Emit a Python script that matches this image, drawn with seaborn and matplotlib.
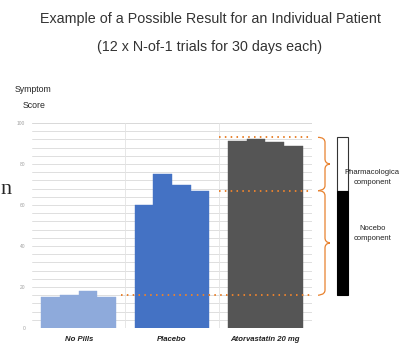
import numpy as np
import pandas as pd
import matplotlib
matplotlib.use("Agg")
import matplotlib.pyplot as plt
import matplotlib.transforms as mtransforms
from matplotlib.path import Path
from matplotlib.patches import PathPatch, Rectangle
import seaborn as sns

# data
groups = ["No Pills", "Placebo", "Atorvastatin 20 mg"]
trials = ["1", "2", "3", "4"]
no_pills = [15, 16, 18, 15]
placebo = [60, 75, 70, 67]
atorvastatin = [91, 92, 90.5, 89]
group_colors = ["#8eaadb", "#4472c4", "#555555"]

# reference levels shown by the dotted lines
baseline_level = 16
nocebo_level = 67
pharma_level = 93

rows = []
for g, vals in zip(groups, [no_pills, placebo, atorvastatin]):
    for t, v in zip(trials, vals):
        rows.append({"group": g, "trial": t, "score": v})
df = pd.DataFrame(rows)

sns.set_style("white")
plt.rcParams['font.family'] = ['Liberation Sans', 'DejaVu Sans']

fig = plt.figure(figsize=(4.01, 3.46), dpi=100)
ax = fig.add_axes([32 / 401, 18 / 346, 280 / 401, 205 / 346])

sns.barplot(data=df, x="group", y="score", hue="trial", dodge=True, gap=0,
            width=0.8, saturation=1, legend=False, ax=ax, zorder=3)

# color bars by group, not by hue
for p in ax.patches:
    cx = p.get_x() + p.get_width() / 2
    idx = int(round(cx))
    p.set_facecolor(group_colors[idx])
    p.set_edgecolor(group_colors[idx])
    p.set_linewidth(0.3)

ax.set_xlim(-0.5, 2.5)
ax.set_ylim(0, 100)

# light gridlines every 4 units
for yv in np.arange(0, 101, 4):
    ax.axhline(yv, color="#d9d9d9", lw=0.6, zorder=1)
ax.axhline(100, color="#d9d9d9", lw=0.6, zorder=1)
for xv in [0.5, 1.5]:
    ax.axvline(xv, color="#e3e3e3", lw=0.6, zorder=1)

for s in ax.spines.values():
    s.set_visible(False)

ax.set_yticks([0, 20, 40, 60, 80, 100])
ax.set_yticklabels(["0", "20", "40", "60", "80", "100"], fontsize=3.5, color="#a0a0a0")
ax.tick_params(axis="y", length=0, pad=5)
ax.set_xticks([0, 1, 2])
ax.set_xticklabels(groups, fontsize=5.6, fontstyle="italic", fontweight="bold", color="#222222")
ax.tick_params(axis="x", length=0, pad=6)
ax.set_xlabel("")
ax.set_ylabel("")

orange = "#e8822f"
trans = mtransforms.blended_transform_factory(ax.transAxes, ax.transData)
ax.plot([1.5, 2.5], [pharma_level] * 2, color=orange, lw=1.4, ls=(0, (0.8, 2.2)),
        zorder=4, clip_on=False)
ax.plot([1.5, 2.5], [nocebo_level] * 2, color=orange, lw=1.4, ls=(0, (0.8, 2.2)),
        zorder=4, clip_on=False)
ax.plot([0.45, 2.5], [baseline_level] * 2, color=orange, lw=1.4, ls=(0, (0.8, 2.2)),
        zorder=4, clip_on=False)


def brace(y_top, y_bot, xt, xs, xp, r=2.5):
    ym = (y_top + y_bot) / 2
    verts = [(xt, y_top), (xs, y_top), (xs, y_top - r),
             (xs, ym + r),
             (xs, ym), (xp, ym), (xp, ym),
             (xp, ym), (xs, ym), (xs, ym - r),
             (xs, y_bot + r),
             (xs, y_bot), (xt, y_bot), (xt, y_bot)]
    codes = [Path.MOVETO, Path.CURVE3, Path.CURVE3,
             Path.LINETO,
             Path.CURVE4, Path.CURVE4, Path.CURVE4,
             Path.CURVE4, Path.CURVE4, Path.CURVE4,
             Path.LINETO,
             Path.CURVE4, Path.CURVE4, Path.CURVE4]
    ax.add_patch(PathPatch(Path(verts, codes), transform=trans, fill=False,
                           edgecolor=orange, lw=0.9, clip_on=False))


bx_t = (318 - 32) / 280
bx_s = (325 - 32) / 280
bx_p = (330 - 32) / 280
brace(pharma_level, nocebo_level, bx_t, bx_s, bx_p)
brace(nocebo_level, baseline_level, bx_t, bx_s, bx_p)

# legend-like component bar
lx0 = (337 - 32) / 280
lw_ = (348 - 337) / 280
ax.add_patch(Rectangle((lx0, nocebo_level), lw_, pharma_level - nocebo_level,
                       transform=trans, facecolor="white", edgecolor="#333333",
                       lw=0.8, clip_on=False, zorder=5))
ax.add_patch(Rectangle((lx0, baseline_level), lw_, nocebo_level - baseline_level,
                       transform=trans, facecolor="black", edgecolor="black",
                       lw=0.8, clip_on=False, zorder=5))

side_kw = dict(fontsize=5.5, ha="center", va="center", color="#222222")
fig.text(372 / 401, 1 - 173 / 346, "Pharmacologica", **side_kw)
fig.text(373 / 401, 1 - 183 / 346, "component", **side_kw)
fig.text(373 / 401, 1 - 228 / 346, "Nocebo", **side_kw)
fig.text(373 / 401, 1 - 239 / 346, "component", **side_kw)

fig.text(15 / 401, 1 - 89 / 346, "Symptom", fontsize=6.3, ha="left", va="center")
fig.text(23 / 401, 1 - 106 / 346, "Score", fontsize=6.3, ha="left", va="center")

fig.text(210 / 401, 1 - 19 / 346, "Example of a Possible Result for an Individual Patient",
         fontsize=10.3, ha="center", va="center", color="#333333")
fig.text(210 / 401, 1 - 47 / 346, "(12 x N-of-1 trials for 30 days each)",
         fontsize=10.3, ha="center", va="center", color="#333333")

# stray glyph at the left edge of the original slide
fig.text(0, 1 - 190 / 346, "n", fontsize=16, family="Liberation Serif",
         ha="left", va="center")

fig.savefig("out.png", dpi=100)
